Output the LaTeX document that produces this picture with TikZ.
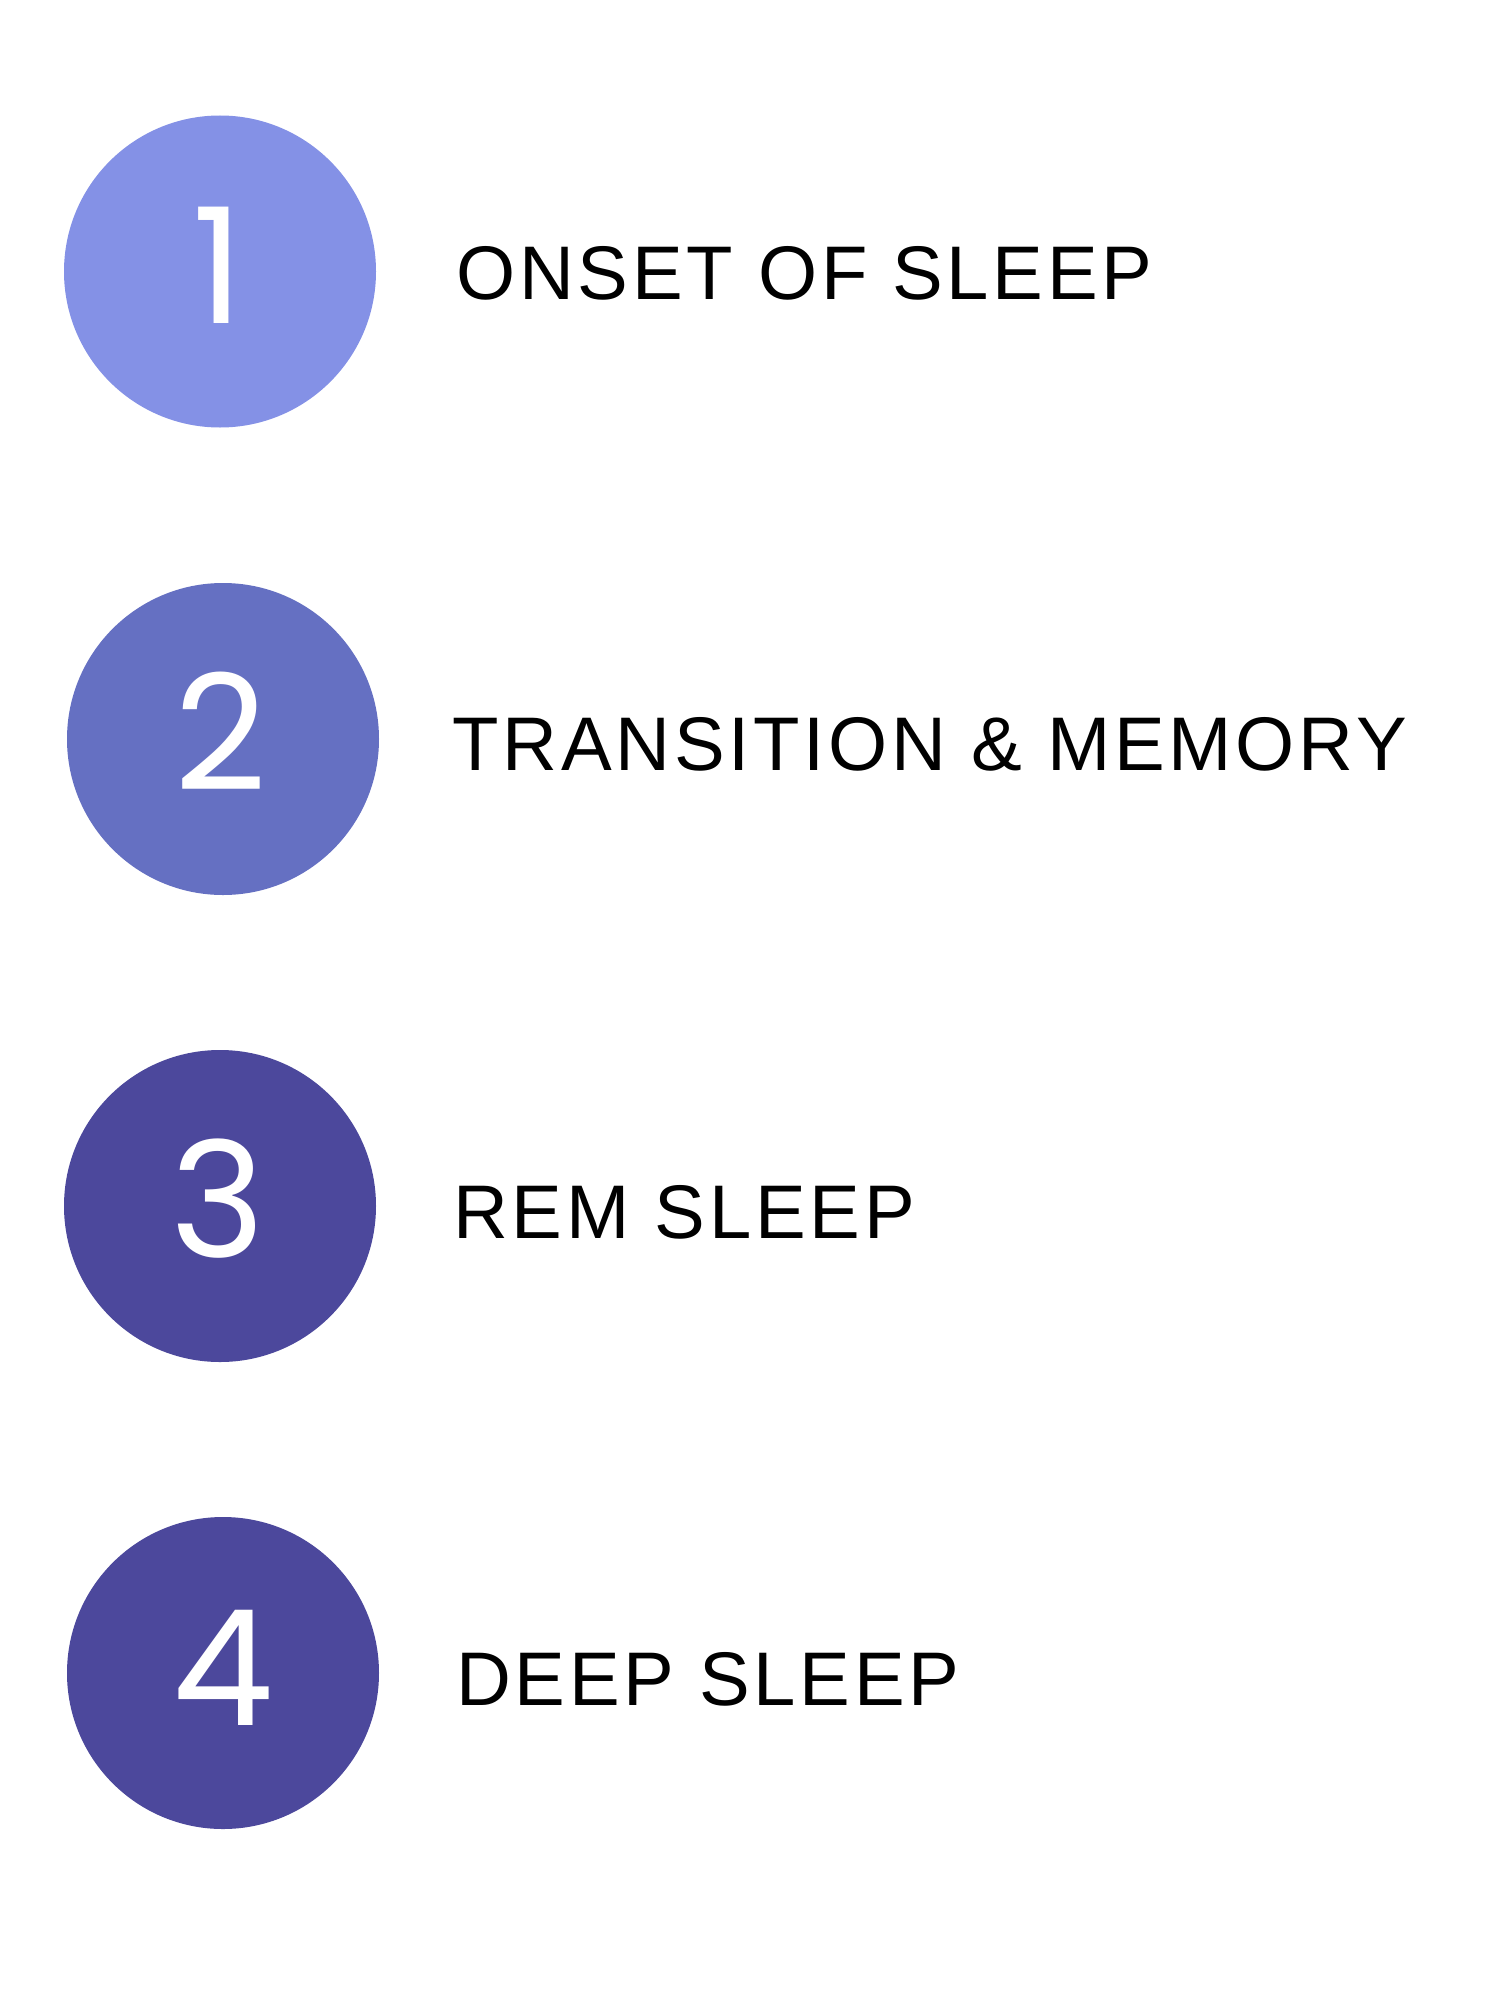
\documentclass[tikz,border=0pt]{standalone}
\usepackage{fontspec}
\setmainfont{Liberation Sans}
\newfontfamily\digitfont{Poppins}
\newfontfamily\labelfont[LetterSpace=5]{Liberation Sans}
\definecolor{stepA}{HTML}{8491E6}
\definecolor{stepB}{HTML}{6570C2}
\definecolor{stepC}{HTML}{4C489C}
\tikzset{
  disc/.style={circle, minimum size=312pt, inner sep=0pt, draw=none},
  numtext/.style={anchor=base, inner sep=0pt, text=white, font=\digitfont\fontsize{161}{161}\selectfont},
  steplabel/.style={anchor=base west, inner sep=0pt, text=black, font=\labelfont\fontsize{76}{76}\selectfont}
}
\begin{document}
\begin{tikzpicture}[x=1pt,y=-1pt]
\useasboundingbox (0,0) rectangle (1484,1991);
\fill[white] (0,0) rectangle (1484,1991);
% circles
\node[disc, fill=stepA] (c1) at (220,271.5) {};
\node[disc, fill=stepB] (c2) at (223,739) {};
\node[disc, fill=stepC] (c3) at (220,1206) {};
\node[disc, fill=stepC] (c4) at (223,1673) {};
% digits
\node[numtext] (n1) at (218,323.5) {1};
\node[numtext] (n2) at (221,790) {2};
\node[numtext] (n3) at (218,1257) {3};
\node[numtext] (n4) at (223,1725) {4};
% labels
\node[steplabel] (t1) at (456,299) {ONSET OF SLEEP};
\node[steplabel] (t2) at (452,770) {TRANSITION \& MEMORY};
\node[steplabel] (t3) at (453,1238) {REM SLEEP};
\node[steplabel] (t4) at (456,1705) {DEEP SLEEP};
\end{tikzpicture}
\end{document}
